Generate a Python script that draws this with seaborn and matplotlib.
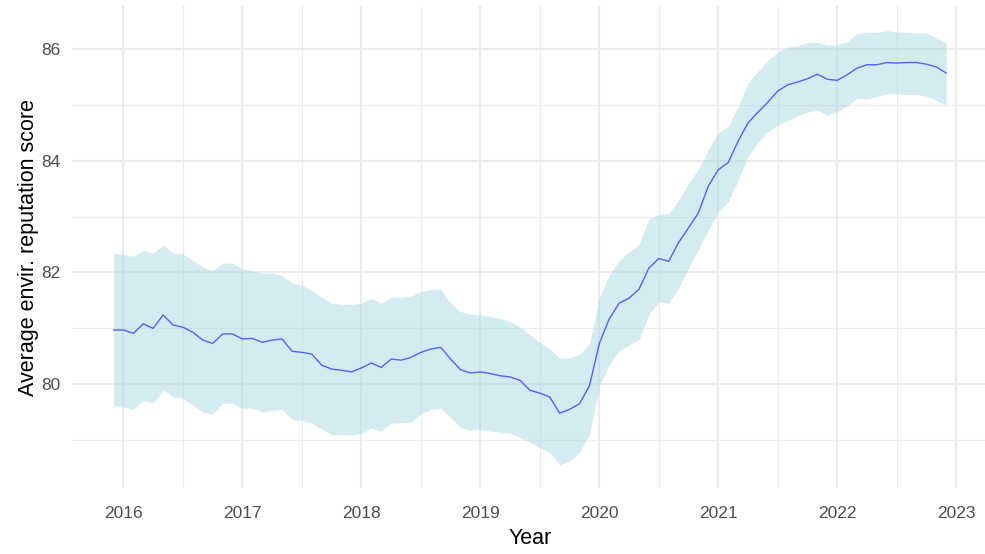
import numpy as np
import pandas as pd
import matplotlib.pyplot as plt
import seaborn as sns
from matplotlib.ticker import MultipleLocator

# monthly averages, Dec 2015 - Dec 2022
months = pd.date_range('2015-12-01', periods=85, freq='MS')

avg_score = [
    80.97, 80.97, 80.91, 81.08, 81.00, 81.24, 81.06, 81.02, 80.93, 80.79,
    80.73, 80.90, 80.90, 80.81, 80.82, 80.75, 80.79, 80.81, 80.59, 80.57,
    80.54, 80.34, 80.27, 80.25, 80.22, 80.29, 80.38, 80.30, 80.45, 80.43,
    80.48, 80.57, 80.63, 80.66, 80.45, 80.26, 80.20, 80.22, 80.19, 80.15,
    80.13, 80.07, 79.89, 79.84, 79.77, 79.48, 79.55, 79.65, 79.97, 80.73,
    81.17, 81.45, 81.54, 81.70, 82.08, 82.25, 82.20, 82.54, 82.80, 83.07,
    83.55, 83.84, 83.97, 84.35, 84.68, 84.87, 85.05, 85.25, 85.36, 85.41,
    85.47, 85.55, 85.46, 85.44, 85.54, 85.66, 85.72, 85.72, 85.76, 85.75,
    85.76, 85.76, 85.73, 85.68, 85.57,
]
upper_ci = [
    82.35, 82.33, 82.29, 82.40, 82.35, 82.49, 82.35, 82.33, 82.22, 82.10,
    82.03, 82.17, 82.17, 82.06, 82.03, 81.99, 81.99, 81.95, 81.81, 81.77,
    81.68, 81.55, 81.45, 81.43, 81.43, 81.45, 81.54, 81.45, 81.56, 81.56,
    81.58, 81.66, 81.70, 81.70, 81.45, 81.30, 81.26, 81.24, 81.21, 81.18,
    81.12, 81.03, 80.88, 80.75, 80.63, 80.47, 80.47, 80.54, 80.72, 81.55,
    81.95, 82.22, 82.37, 82.50, 82.95, 83.05, 83.05, 83.30, 83.60, 83.85,
    84.20, 84.50, 84.62, 84.97, 85.40, 85.60, 85.80, 85.95, 86.03, 86.06,
    86.12, 86.12, 86.07, 86.08, 86.13, 86.28, 86.30, 86.30, 86.33, 86.31,
    86.30, 86.29, 86.29, 86.20, 86.11,
]
lower_ci = [
    79.61, 79.59, 79.55, 79.71, 79.66, 79.89, 79.77, 79.75, 79.62, 79.50,
    79.46, 79.66, 79.66, 79.57, 79.57, 79.50, 79.53, 79.55, 79.37, 79.35,
    79.30, 79.20, 79.10, 79.09, 79.09, 79.12, 79.21, 79.16, 79.30, 79.31,
    79.32, 79.46, 79.55, 79.57, 79.40, 79.22, 79.18, 79.19, 79.16, 79.14,
    79.12, 79.05, 78.96, 78.87, 78.78, 78.55, 78.62, 78.78, 79.10, 79.95,
    80.35, 80.60, 80.70, 80.80, 81.25, 81.47, 81.45, 81.72, 82.08, 82.42,
    82.76, 83.08, 83.27, 83.65, 84.08, 84.32, 84.52, 84.64, 84.72, 84.80,
    84.88, 84.90, 84.82, 84.88, 84.98, 85.12, 85.11, 85.15, 85.20, 85.20,
    85.19, 85.18, 85.16, 85.08, 85.00,
]

year_ticks = [2016, 2017, 2018, 2019, 2020, 2021, 2022, 2023]

df = pd.DataFrame({'month': months, 'score': avg_score,
                   'upper': upper_ci, 'lower': lower_ci})
df['year'] = df['month'].dt.year + (df['month'].dt.month - 1) / 12

sns.set_theme(style='whitegrid')
plt.rcParams['font.family'] = ['Liberation Sans', 'DejaVu Sans']

fig = plt.figure(figsize=(9.85, 5.54), dpi=100)
ax = fig.add_axes([0.073, 0.119, 0.93, 0.870])

ax.fill_between(df['year'], df['lower'], df['upper'],
                color='lightblue', alpha=0.5, linewidth=0)
sns.lineplot(data=df, x='year', y='score', color='#4F63FF',
             linewidth=1.0, ax=ax)

# ggplot-like 5% expansion
span = df['year'].max() - df['year'].min()
ax.set_xlim(df['year'].min() - 0.05 * span, df['year'].max() + 0.05 * span)
ax.set_ylim(78.14, 86.77)

ax.set_xticks(year_ticks)
ax.set_xticklabels([str(y) for y in year_ticks])
ax.xaxis.set_minor_locator(MultipleLocator(0.5))
ax.yaxis.set_major_locator(MultipleLocator(2))
ax.yaxis.set_minor_locator(MultipleLocator(1))

ax.set_axisbelow(True)
ax.grid(which='major', color='#EBEBEB', linewidth=1.5)
ax.grid(which='minor', color='#EBEBEB', linewidth=0.8)
for s in ax.spines.values():
    s.set_visible(False)
ax.set_facecolor('white')

ax.tick_params(which='both', length=0, labelsize=12.5,
               labelcolor='#4D4D4D')
ax.tick_params(axis='y', pad=8)
ax.tick_params(axis='x', pad=13)
ax.set_xlabel('Year', fontsize=15.5, color='black', labelpad=5)
ax.set_ylabel('Average envir. reputation score', fontsize=15.5,
              color='black', labelpad=2)

fig.savefig('out.png', dpi=100, facecolor='white')
